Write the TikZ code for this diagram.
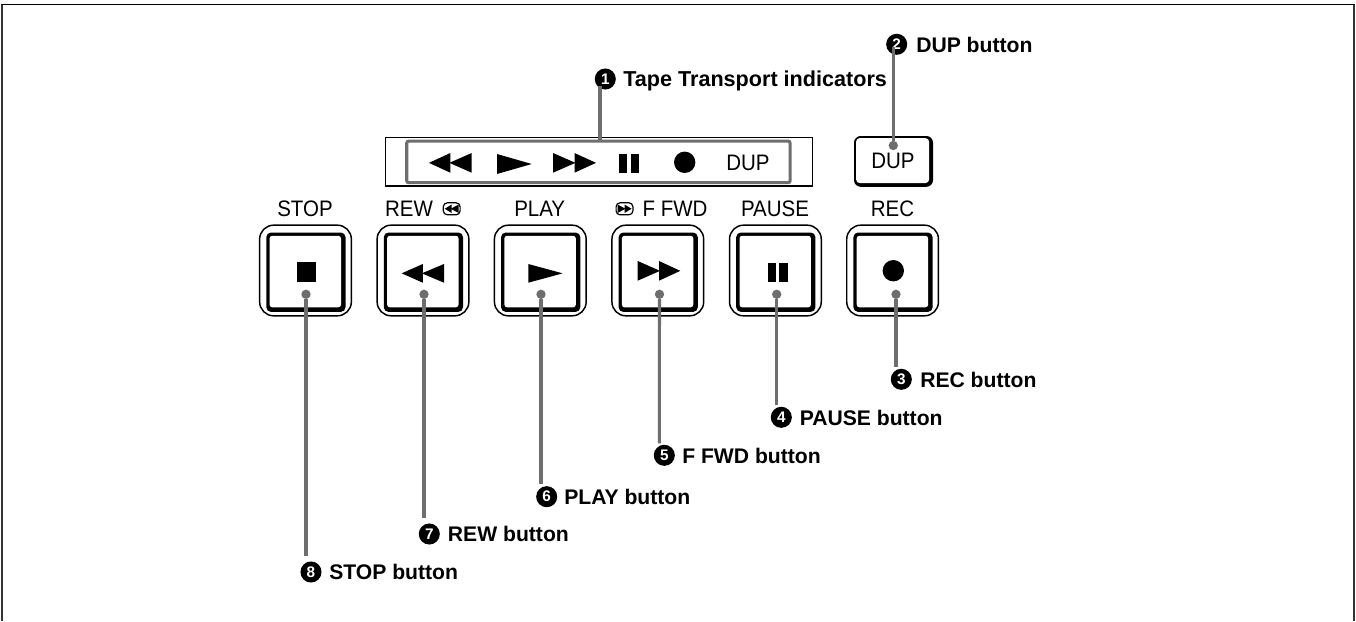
\documentclass[tikz,border=0pt]{standalone}
\usepackage{fontspec}
\setmainfont{Liberation Sans}
\newfontfamily\narrowsans[FakeStretch=0.915]{Liberation Sans}
\definecolor{leader}{HTML}{6E6E6E}
\tikzset{
  btnouter/.style={draw=black,line width=1.1pt,rounded corners=10.5pt,fill=white,minimum width=68.8pt,minimum height=68pt,inner sep=0pt},
  btntext/.style={font=\narrowsans\fontsize{16.8pt}{18pt}\selectfont,anchor=base,inner sep=0pt,text=black},
  calltext/.style={font=\fontsize{15.85pt}{18pt}\selectfont\bfseries,anchor=base west,inner sep=0pt,text=black},
  numdot/.style={circle,fill=black,text=white,minimum size=15.8pt,inner sep=0pt,font=\fontsize{11.5pt}{12pt}\selectfont\bfseries},
  leaderline/.style={draw=leader,line width=2.3pt},
  pin/.style={circle,fill=leader,minimum size=7pt,inner sep=0pt},
  glyph/.style={fill=black,draw=none},
  tinyicon/.style={draw=black,line width=0.9pt,rounded corners=3pt,fill=white,minimum width=12.6pt,minimum height=9pt,inner sep=0pt}
}
% left-pointing double triangle: left x, right x, top y, bottom y
\newcommand{\dblleft}[4]{%
  \fill[glyph] (#1,{(#3+#4)/2}) -- ({(#1+#2)/2},#3) -- ({(#1+#2)/2},#4) -- cycle;
  \fill[glyph] ({(#1+#2)/2-1},{(#3+#4)/2}) -- (#2,#3) -- (#2,#4) -- cycle;}
\newcommand{\dblright}[4]{%
  \fill[glyph] (#2,{(#3+#4)/2}) -- ({(#1+#2)/2},#3) -- ({(#1+#2)/2},#4) -- cycle;
  \fill[glyph] ({(#1+#2)/2+1},{(#3+#4)/2}) -- (#1,#3) -- (#1,#4) -- cycle;}
\newcommand{\sglright}[4]{%
  \fill[glyph] (#2,{(#3+#4)/2}) -- (#1,#3) -- (#1,#4) -- cycle;}
\newcommand{\pausebars}[6]{%
  \fill[glyph] (#1,#5) rectangle (#2,#6);
  \fill[glyph] (#3,#5) rectangle (#4,#6);}
% name, centre x
\newcommand{\pushbtn}[2]{%
  \node[btnouter] (#1) at (#2,270.5) {};
  \fill[black,rounded corners=3.5pt] ({#2-39.2},232.5) rectangle ({#2+40},311.9);
  \fill[white,rounded corners=2pt] ({#2-35.9},235.8) rectangle ({#2+35.5},307.3);}
\begin{document}
\begin{tikzpicture}[x=0.75pt,y=-0.75pt]
\useasboundingbox (0,0) rectangle (1356,621);
\fill[white] (0,0) rectangle (1356,621);
% frame
\draw[black!80,line width=1.9pt] (2,621) -- (2,4.5);
\draw[black!80,line width=1.9pt] (1354,621) -- (1354,4.5);
\draw[black,line width=1.2pt] (1,4.5) -- (1355,4.5);

% indicator panel
\node[draw=black,line width=0.9pt,minimum width=320pt,minimum height=36.5pt,inner sep=0pt] (panel) at (599.2,161.7) {};
\node[draw=leader,line width=2.3pt,rounded corners=1.5pt,minimum width=287.5pt,minimum height=31.2pt,inner sep=0pt] (indic) at (598.4,161.9) {};
\dblleft{429}{471.7}{153}{172.7}
\sglright{497}{531.7}{154}{174}
\dblright{553}{596}{153}{172.7}
\pausebars{619}{627.3}{630.7}{639.3}{154}{173}
\fill[glyph] (684.7,162.3) circle[radius=10.7];
\node[btntext] (dupind) at (748,170.7) {DUP};

% buttons
\pushbtn{stop}{305.5}
\pushbtn{rew}{423}
\pushbtn{play}{540.3}
\pushbtn{ffwd}{657.8}
\pushbtn{pause}{775.4}
\pushbtn{rec}{892.6}
\fill[glyph] (296.7,262.3) rectangle (316,281.7);
\dblleft{401.7}{444}{264}{282.7}
\sglright{528.3}{562.7}{264}{282.7}
\dblright{637.7}{680.3}{261}{280.7}
\pausebars{767.7}{775.7}{779.3}{787.7}{262.7}{281.7}
\fill[glyph] (893.3,270.7) circle[radius=10.7];

% DUP button
\fill[black,rounded corners=5pt] (854,136) rectangle (933,186.8);
\node[fill=white,rounded corners=2.5pt,minimum width=54.6pt,minimum height=33.6pt,inner sep=0pt] (dupbtn) at (892.6,160.6) {};
\node[btntext] (duptext) at (893,168.5) {DUP};

% button captions
\node[btntext] (tstop) at (305,216) {STOP};
\node[btntext] (trew) at (409,216) {REW};
\node[tinyicon] (irew) at (451.7,208.8) {};
\dblleft{444.7}{458.7}{204.5}{213}
\node[btntext] (tplay) at (539.7,216) {PLAY};
\node[tinyicon] (iffwd) at (624.5,208.8) {};
\dblright{617.5}{631.5}{204.5}{213}
\node[btntext] (tffwd) at (675,216) {F FWD};
\node[btntext] (tpause) at (775,216) {PAUSE};
\node[btntext] (trec) at (892.5,216) {REC};

% callouts
\node[numdot] (n1) at (605.3,79) {1};
\node[calltext,font=\fontsize{16.2pt}{18pt}\selectfont\bfseries] (l1) at (623,86.7) {Tape Transport indicators};
\node[numdot] (n2) at (896.7,44.3) {2};
\node[calltext] (l2) at (916,52) {DUP button};
\node[numdot] (n3) at (901.3,379.3) {3};
\node[calltext] (l3) at (920,387) {REC button};
\node[numdot] (n4) at (781.3,417.3) {4};
\node[calltext] (l4) at (799.5,425) {PAUSE button};
\node[numdot] (n5) at (664.3,455.3) {5};
\node[calltext] (l5) at (682,463) {F FWD button};
\node[numdot] (n6) at (546.7,496.7) {6};
\node[calltext] (l6) at (564,504.4) {PLAY button};
\node[numdot] (n7) at (429.3,534) {7};
\node[calltext] (l7) at (447.7,541.7) {REW button};
\node[numdot] (n8) at (311,572) {8};
\node[calltext] (l8) at (329,579.7) {STOP button};

% pins
\node[pin] (pstop) at (306,294.3) {};
\node[pin] (prew) at (424,294.3) {};
\node[pin] (pplay) at (541,294.3) {};
\node[pin] (pffwd) at (659.5,294.3) {};
\node[pin] (ppause) at (776.7,294.3) {};
\node[pin] (prec) at (896,294.3) {};
\node[pin] (pdup) at (893.3,145.5) {};

% leader ends
\coordinate (e1) at (600,86);
\coordinate (e2) at (893.3,47);
\coordinate (e3) at (896,367.3);
\coordinate (e4) at (776.7,405);
\coordinate (e5) at (659.3,443.3);
\coordinate (e6) at (541,484);
\coordinate (e7) at (424,518.3);
\coordinate (e8) at (306,556);

\draw[leaderline] (indic.north -| e1) -- (e1);
\draw[leaderline] (pdup) -- (e2);
\draw[leaderline] (prec) -- (e3);
\draw[leaderline] (ppause) -- (e4);
\draw[leaderline] (pffwd) -- (e5);
\draw[leaderline] (pplay) -- (e6);
\draw[leaderline] (prew) -- (e7);
\draw[leaderline] (pstop) -- (e8);
\end{tikzpicture}
\end{document}
